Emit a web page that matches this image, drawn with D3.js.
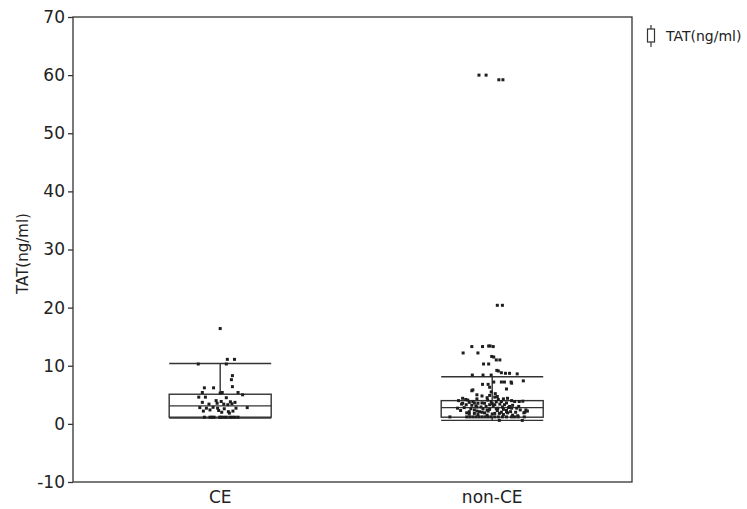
<!DOCTYPE html>
<html>
<head>
<meta charset="utf-8">
<script src="https://cdn.jsdelivr.net/npm/d3@7"></script>
<style>
  body { margin: 0; background: #fff; }
  text { font-family: "DejaVu Sans", Verdana, sans-serif; fill: #222; }
</style>
</head>
<body>
<div class="chart"></div>
<script>
// categories and tick labels
const categories = ["CE", "non-CE"]
const yTicks = [-10, 0, 10, 20, 30, 40, 50, 60, 70]
const seriesName = "TAT(ng/ml)"

// box statistics: [lower whisker, q1, median, q3, upper whisker]
const boxStats = [
  [1.0, 1.15, 3.1, 5.1, 10.4],
  [0.6, 1.15, 2.8, 4.0, 8.1]
]

// individual points: [jitter (share of half box width), value]
const pointsCE = [
  [0.0, 16.4], [0.14, 11.1], [0.28, 11.1], [0.12, 10.3], [-0.43, 10.3],
  [0.24, 8.3], [0.22, 7.6], [0.24, 6.4], [-0.31, 6.2], [-0.13, 6.2],
  [-0.35, 5.4], [0.04, 5.4], [0.35, 5.4], [0.0, 5.3], [0.44, 5.0],
  [-0.42, 4.6], [-0.29, 4.6], [0.12, 4.5], [-0.08, 4.0], [0.02, 3.85],
  [0.2, 3.8], [-0.35, 3.7], [0.29, 3.7], [-0.06, 3.55], [0.23, 3.45],
  [-0.22, 3.4], [0.07, 3.4], [0.15, 3.3], [-0.14, 2.85], [-0.4, 2.8],
  [0.53, 2.8], [-0.27, 2.7], [-0.05, 2.7], [0.31, 2.7], [0.08, 2.6],
  [-0.2, 2.4], [-0.03, 2.3], [-0.33, 2.2], [0.25, 2.2], [0.16, 2.1],
  [0.03, 2.0], [0.18, 1.85],
  [-0.31, 1.15], [-0.2, 1.15], [-0.16, 1.15], [-0.12, 1.15], [-0.01, 1.15],
  [0.02, 1.15], [0.07, 1.15], [0.12, 1.15], [0.19, 1.15], [0.24, 1.15],
  [0.29, 1.15], [0.35, 1.15]
]

const pointsNonCE = [
  [-0.26, 60.0], [-0.12, 60.0], [0.13, 59.2], [0.21, 59.2],
  [0.1, 20.4], [0.2, 20.4],
  [-0.4, 13.3], [-0.19, 13.3], [-0.07, 13.4], [-0.04, 13.4], [0.02, 13.3],
  [-0.57, 12.2], [-0.28, 12.2], [-0.01, 11.6], [0.03, 11.5],
  [0.08, 11.0], [0.15, 11.0], [-0.17, 10.3], [-0.07, 10.3],
  [0.09, 9.2], [0.12, 9.1], [0.18, 8.8], [0.26, 8.7], [0.34, 8.7], [0.49, 8.6],
  [-0.39, 8.4], [-0.18, 8.4], [-0.02, 8.4],
  [0.61, 7.4], [0.24, 7.2], [0.18, 7.2], [0.03, 7.2], [0.37, 7.2], [0.38, 7.0],
  [-0.19, 6.8], [-0.08, 6.8], [-0.05, 6.3], [0.28, 6.0], [-0.38, 5.85],
  [-0.4, 5.7], [-0.02, 5.5], [-0.05, 4.9],
  [-0.3, 5.0], [0.06, 5.2], [-0.2, 4.8], [0.1, 4.7],
  [-0.58, 4.4], [-0.66, 4.0], [-0.58, 3.55], [-0.48, 4.1], [-0.51, 3.3],
  [-0.38, 3.85], [-0.35, 2.4], [-0.45, 2.1], [-0.25, 2.1], [-0.22, 2.9],
  [-0.28, 3.55], [-0.15, 3.55], [-0.09, 4.1], [-0.02, 3.85], [0.05, 3.3],
  [0.11, 2.7], [0.18, 3.85], [0.24, 3.3], [0.28, 2.1], [0.34, 3.0],
  [0.44, 3.85], [0.48, 2.7], [0.53, 3.85], [0.46, 2.0],
  [-0.3, 4.3], [-0.1, 4.5], [0.05, 4.6], [0.12, 4.2], [0.3, 4.4], [0.38, 4.0],
  [-0.45, 3.7], [-0.2, 3.6], [0.0, 3.5], [0.15, 3.4], [0.28, 3.6],
  [-0.4, 3.2], [-0.32, 3.1], [-0.12, 3.0], [0.02, 3.1], [0.2, 2.9], [0.4, 3.2],
  [-0.55, 2.8], [-0.42, 2.6], [-0.18, 2.6], [-0.05, 2.5], [0.08, 2.6],
  [0.22, 2.5], [0.32, 2.8], [0.55, 2.4], [-0.62, 2.3], [-0.3, 2.2],
  [-0.08, 2.2], [0.1, 2.3], [0.18, 2.0], [0.36, 2.1], [-0.5, 1.9],
  [-0.35, 1.8], [-0.15, 1.9], [0.0, 1.7], [0.14, 1.8], [0.3, 1.9],
  [-0.28, 1.6], [-0.1, 1.5], [0.22, 1.6], [0.4, 1.5], [-0.52, 4.2],
  [0.6, 3.9], [-0.6, 3.4], [0.52, 3.0], [-0.68, 2.7], [0.66, 2.4],
  [-0.45, 1.7], [0.5, 1.4], [0.22, 4.3], [0.08, 3.8], [-0.35, 3.6],
  [-0.05, 3.3], [-0.3, 2.9], [0.38, 2.7], [-0.1, 2.4], [0.28, 2.3],
  [-0.2, 2.0], [0.05, 1.8],
  [0.64, 2.0], [0.69, 2.2], [0.62, 1.9],
  [-0.83, 1.2], [-0.5, 1.2], [-0.44, 1.2], [-0.38, 1.2], [-0.32, 1.2],
  [-0.26, 1.2], [-0.2, 1.2], [-0.14, 1.2], [-0.08, 1.2], [-0.02, 1.2],
  [0.05, 1.2], [0.12, 1.2], [0.2, 1.2], [0.28, 1.2], [0.38, 1.2],
  [0.44, 1.2], [0.51, 1.2], [0.63, 1.2],
  [0.14, 0.6], [0.59, 0.6]
]

const pointSets = [pointsCE, pointsNonCE]

const drawChart = () => {
  const dims = {
    width: 747,
    height: 509,
    margin: { top: 17, right: 115, bottom: 27, left: 73 }
  }
  dims.boundedWidth = dims.width - dims.margin.left - dims.margin.right
  dims.boundedHeight = dims.height - dims.margin.top - dims.margin.bottom

  const colors = { line: "#333", dot: "#1e1e1e" }

  const xScale = d3.scaleBand()
    .domain(categories)
    .range([0, dims.boundedWidth])
    .paddingInner(0.625)
    .paddingOuter(0.34)
    .align(0.52)

  const yScale = d3.scaleLinear()
    .domain([-10, 70])
    .range([dims.boundedHeight, 0])

  const svg = d3.select(".chart")
    .append("svg")
      .attr("width", dims.width)
      .attr("height", dims.height)

  const bounds = svg.append("g")
      .attr("transform", `translate(${dims.margin.left},${dims.margin.top})`)

  // frame
  bounds.append("rect")
      .attr("width", dims.boundedWidth)
      .attr("height", dims.boundedHeight)
      .attr("fill", "none")
      .attr("stroke", colors.line)
      .attr("stroke-width", 1.3)

  const yAxis = bounds.append("g")
      .call(d3.axisLeft(yScale)
          .tickValues(yTicks)
          .tickFormat(d => String(d))
          .tickSize(5)
          .tickPadding(3))
      .call(g => g.select(".domain").remove())
      .call(g => g.selectAll(".tick line").attr("stroke", colors.line).attr("stroke-width", 1.3))
      .call(g => g.selectAll(".tick text")
          .attr("font-size", 17)
          .attr("font-family", "DejaVu Sans, sans-serif")
          .attr("fill", "#222"))

  const xAxis = bounds.append("g")
      .attr("transform", `translate(0,${dims.boundedHeight})`)
      .call(d3.axisBottom(xScale).tickSize(0).tickPadding(9))
      .call(g => g.select(".domain").remove())
      .call(g => g.selectAll(".tick text")
          .attr("font-size", 17)
          .attr("font-family", "DejaVu Sans, sans-serif")
          .attr("fill", "#222"))

  svg.append("text")
      .attr("transform", `translate(28,${dims.margin.top + yScale(30) + 4}) rotate(-90)`)
      .attr("text-anchor", "middle")
      .attr("font-size", 15)
      .text(seriesName)

  // boxes
  const boxes = bounds.selectAll(".box")
    .data(categories.map((c, i) => ({ cat: c, stats: boxStats[i], points: pointSets[i] })))
    .join("g")
      .attr("class", "box")
      .attr("transform", d => `translate(${xScale(d.cat)},0)`)

  const bw = xScale.bandwidth()

  boxes.append("line")
      .attr("x1", bw / 2).attr("x2", bw / 2)
      .attr("y1", d => yScale(d.stats[3]))
      .attr("y2", d => yScale(d.stats[4]))
  boxes.append("line")
      .attr("x1", bw / 2).attr("x2", bw / 2)
      .attr("y1", d => yScale(d.stats[0]))
      .attr("y2", d => yScale(d.stats[1]))
  boxes.selectAll(".cap")
    .data(d => [d.stats[0], d.stats[2], d.stats[4]])
    .join("line")
      .attr("class", "cap")
      .attr("x1", 0).attr("x2", bw)
      .attr("y1", d => yScale(d))
      .attr("y2", d => yScale(d))
  boxes.append("rect")
      .attr("x", 0)
      .attr("width", bw)
      .attr("y", d => yScale(d.stats[3]))
      .attr("height", d => yScale(d.stats[1]) - yScale(d.stats[3]))
      .attr("fill", "none")

  boxes.selectAll("line, rect")
      .attr("stroke", colors.line)
      .attr("stroke-width", 1.4)

  boxes.selectAll(".dot")
    .data(d => d.points)
    .join("rect")
      .attr("class", "dot")
      .attr("x", d => bw / 2 + d[0] * bw / 2 - 1.5)
      .attr("y", d => yScale(d[1]) - 1.5)
      .attr("width", 3)
      .attr("height", 3)
      .attr("fill", colors.dot)

  // legend
  const legend = svg.append("g")
      .attr("transform", `translate(651,25)`)
  legend.append("line")
      .attr("y1", 0).attr("y2", 22)
      .attr("stroke", colors.line).attr("stroke-width", 1.2)
  legend.append("rect")
      .attr("x", -3.5).attr("y", 4).attr("width", 7).attr("height", 13)
      .attr("fill", "#fff")
      .attr("stroke", colors.line).attr("stroke-width", 1.2)
  legend.append("text")
      .attr("x", 15)
      .attr("y", 16)
      .attr("font-size", 14)
      .text(seriesName)
}
drawChart()
</script>
</body>
</html>
